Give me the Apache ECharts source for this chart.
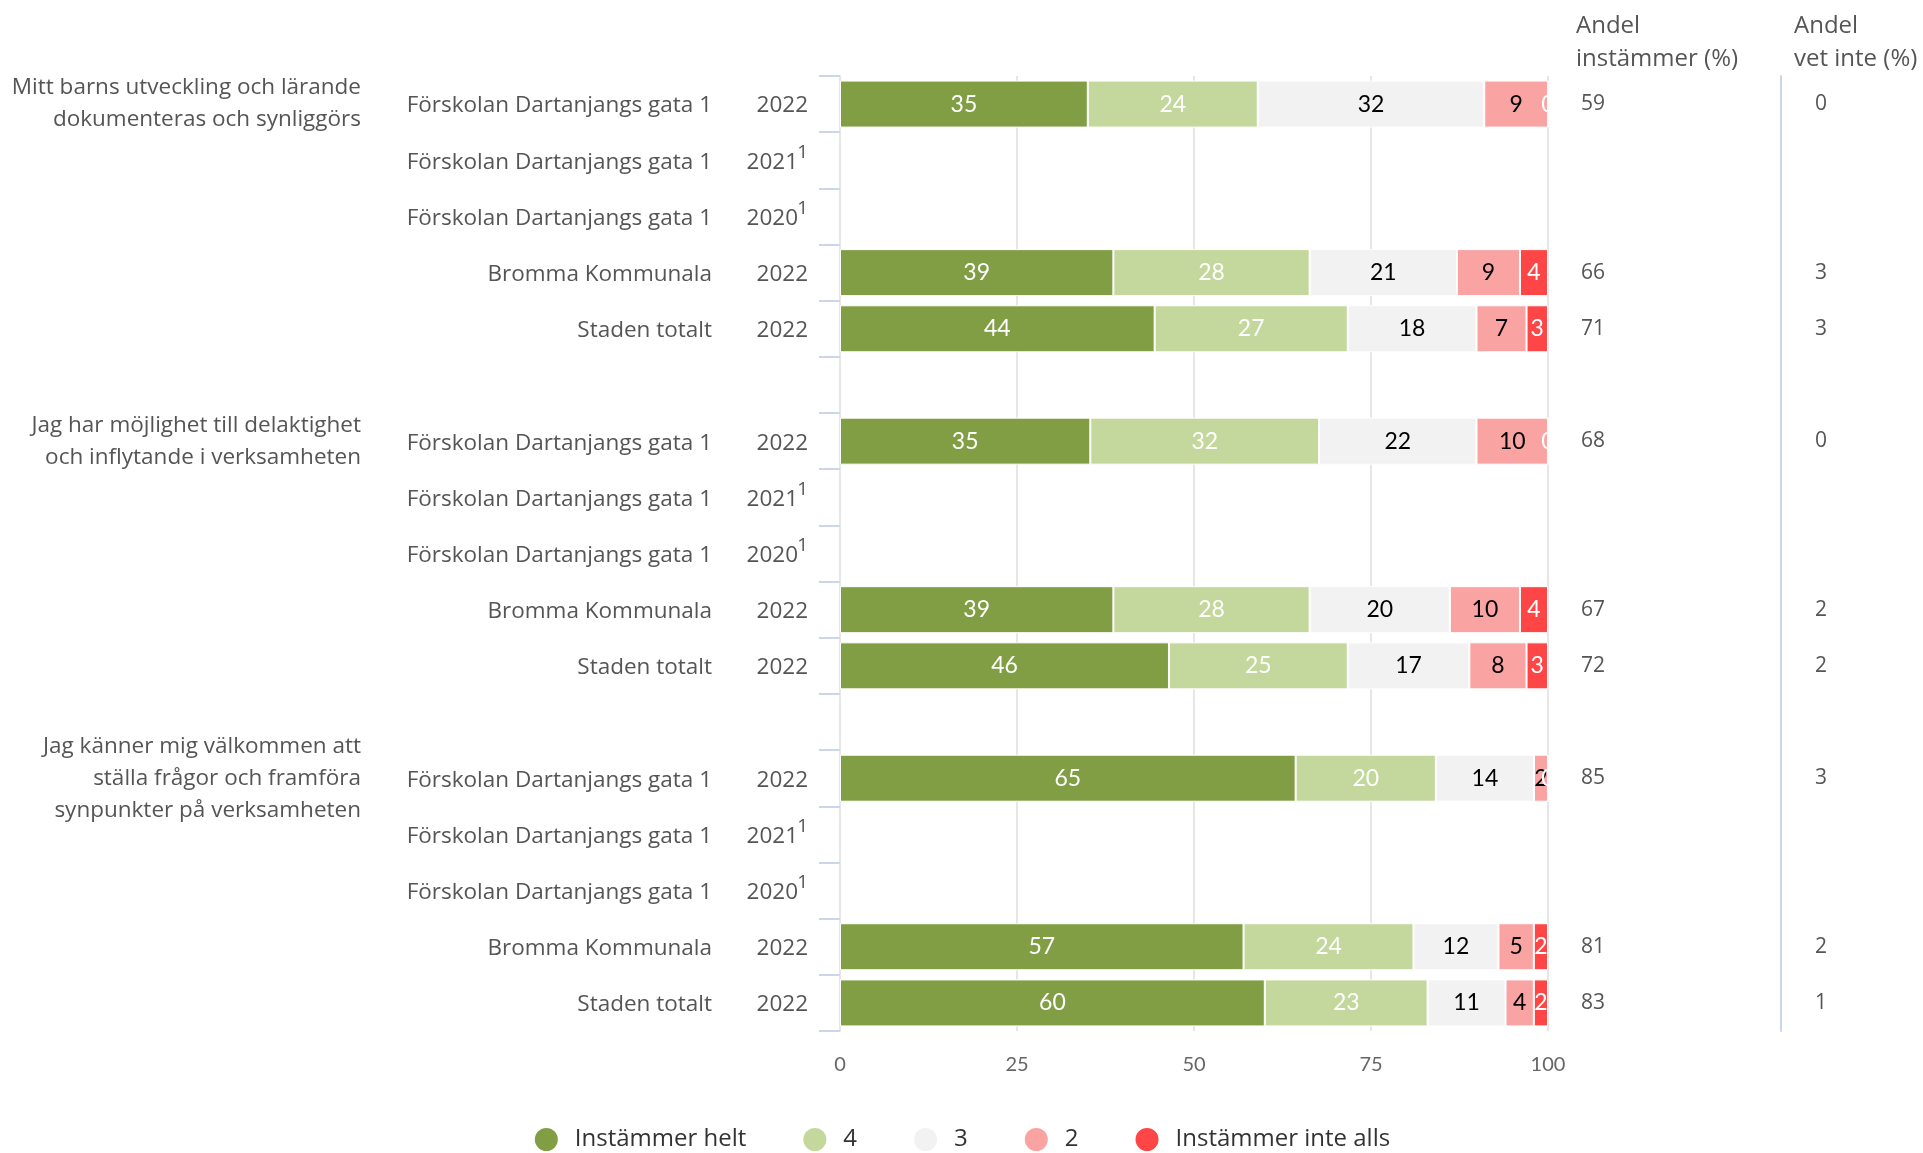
<!DOCTYPE html>
<html>
<head>
<meta charset="utf-8">
<script src="https://cdn.jsdelivr.net/npm/echarts@6/dist/echarts.min.js"></script>
<style>
html,body{margin:0;padding:0;background:#fff;}
#chart{width:1923px;height:1153px;}
</style>
</head>
<body>
<div id="chart"></div>
<script>
// ---- data ----
const groupTitles = [
  'Mitt barns utveckling och lärande\ndokumenteras och synliggörs','','','','','',
  'Jag har möjlighet till delaktighet\noch inflytande i verksamheten','','','','','',
  'Jag känner mig välkommen att\nställa frågor och framföra\nsynpunkter på verksamheten','','','',''
];
const rowNames = [
  'Förskolan Dartanjangs gata 1','Förskolan Dartanjangs gata 1','Förskolan Dartanjangs gata 1','Bromma Kommunala','Staden totalt','',
  'Förskolan Dartanjangs gata 1','Förskolan Dartanjangs gata 1','Förskolan Dartanjangs gata 1','Bromma Kommunala','Staden totalt','',
  'Förskolan Dartanjangs gata 1','Förskolan Dartanjangs gata 1','Förskolan Dartanjangs gata 1','Bromma Kommunala','Staden totalt'
];
const rowYears = ['2022','2021','2020','2022','2022','', '2022','2021','2020','2022','2022','', '2022','2021','2020','2022','2022'];
const rowNotes = ['','1','1','','','', '','1','1','','','', '','1','1','',''];
const seriesNames = ['Instämmer helt','4','3','2','Instämmer inte alls'];
const instammerHelt     = [35,null,null,39,44,null, 35,null,null,39,46,null, 65,null,null,57,60];
const varde4            = [24,null,null,28,27,null, 32,null,null,28,25,null, 20,null,null,24,23];
const varde3            = [32,null,null,21,18,null, 22,null,null,20,17,null, 14,null,null,12,11];
const varde2            = [9,null,null,9,7,null, 10,null,null,10,8,null, 2,null,null,5,4];
const instammerInteAlls = [0,null,null,4,3,null, 0,null,null,4,3,null, 0,null,null,2,2];
const andelInstammer = ['59','','','66','71','', '68','','','67','72','', '85','','','81','83'];
const andelVetInte   = ['0','','','3','3','', '0','','','2','2','', '3','','','2','1'];
const xTicks = [0,25,50,75,100];

// ---- chart ----
const FONT = '"Open Sans"';
const NUMFONT = 'Lato';
const colors = ['#829e45','#c4d79c','#f2f2f2','#f9a3a3','#ff4646'];
const labelColors = ['#ffffff','#ffffff','#000000','#000000','#ffffff'];
const seriesData = [instammerHelt, varde4, varde3, varde2, instammerInteAlls];
const idx = rowNames.map((_, i) => String(i));

// percent stacking (as the original chart): each bar is drawn as share of its row total
const rowTotals = idx.map((_, i) => seriesData.reduce((a, arr) => a + (arr[i] || 0), 0));

const chart = echarts.init(document.getElementById('chart'), null, {renderer:'canvas'});

const baseCat = {
  type:'category', data: idx, inverse:true, gridIndex:0,
  axisLine:{show:false}, axisTick:{show:false}, splitLine:{show:false}
};
const TXT = '#555';
const FS = 22.5;

const option = {
  animation:false,
  textStyle:{fontFamily:FONT},
  grid:{left:840, right:375, top:76, bottom:122, containLabel:false},
  legend:{
    data: seriesNames, top:1121, left:'center', icon:'circle',
    itemWidth:25, itemHeight:25, itemGap:55,
    textStyle:{fontSize:24, color:'#333', fontFamily:FONT, padding:[0,0,0,11]}
  },
  xAxis:{
    type:'value', min:xTicks[0], max:xTicks[xTicks.length-1], interval:25,
    axisLine:{show:false}, axisTick:{show:false},
    axisLabel:{color:'#666', fontSize:20, margin:24, fontFamily:NUMFONT},
    splitLine:{show:true, lineStyle:{color:'#e6e6e6', width:2}}
  },
  yAxis:[
    Object.assign({}, baseCat, {
      position:'left',
      axisLine:{show:true, lineStyle:{color:'#e6e6e6', width:2}},
      axisTick:{show:true, length:21, interval:0, lineStyle:{color:'#ccd6eb', width:2}},
      axisLabel:{
        interval:0, margin:32, fontFamily:FONT,
        formatter:(v) => {
          const k = +v;
          if (!rowNames[k]) return '';
          if (rowNotes[k]) return '{n|' + rowNames[k] + '}{y|' + rowYears[k] + '}{s|' + rowNotes[k] + '}';
          return '{n|' + rowNames[k] + '}{yy|' + rowYears[k] + '}';
        },
        rich:{
          n:{fontSize:FS, color:TXT, fontFamily:FONT, lineHeight:30, padding:[4,0,0,0]},
          y:{fontSize:FS, color:TXT, fontFamily:FONT, width:86, align:'right', lineHeight:30, padding:[4,0,0,0]},
          yy:{fontSize:FS, color:TXT, fontFamily:FONT, width:96, align:'right', lineHeight:30, padding:[4,0,0,0]},
          s:{fontSize:19, color:TXT, fontFamily:FONT, width:10, align:'right', lineHeight:30, padding:[0,0,16,0]}
        }
      }
    }),
    Object.assign({}, baseCat, {
      position:'left',
      axisLabel:{
        interval:0, margin:479, align:'right', fontSize:FS, lineHeight:32, color:TXT, fontFamily:FONT,
        formatter:(v) => groupTitles[+v]
      }
    }),
    Object.assign({}, baseCat, {
      position:'right',
      axisLabel:{
        interval:0, margin:33, fontSize:21, color:TXT, fontFamily:FONT,
        formatter:(v) => andelInstammer[+v]
      }
    }),
    Object.assign({}, baseCat, {
      position:'right', offset:233,
      axisLine:{show:true, lineStyle:{color:'#ccd6eb', width:2}},
      axisLabel:{
        interval:0, margin:34, fontSize:21, color:TXT, fontFamily:FONT,
        formatter:(v) => andelVetInte[+v]
      }
    })
  ],
  graphic:[
    {type:'text', left:1576, top:10, style:{text:'Andel\ninstämmer (%)', font:'24px "Open Sans"', fill:TXT, lineHeight:33}},
    {type:'text', left:1794, top:10, style:{text:'Andel\nvet inte (%)', font:'24px "Open Sans"', fill:TXT, lineHeight:33}}
  ],
  series: seriesNames.map((name, s) => ({
    name, type:'bar', stack:'total', yAxisIndex:0, barWidth:47,
    data: seriesData[s].map((v, i) => v == null ? null : {value: v * 100 / rowTotals[i], raw: v}),
    itemStyle:{color:colors[s], borderColor:'#ffffff', borderWidth:1},
    label:{
      show:true, position:'inside', fontSize:23, color:labelColors[s], fontFamily:NUMFONT,
      formatter:(p) => p.data == null ? '' : String(p.data.raw)
    },
    emphasis:{disabled:true}
  }))
};
chart.setOption(option);
</script>
</body>
</html>
